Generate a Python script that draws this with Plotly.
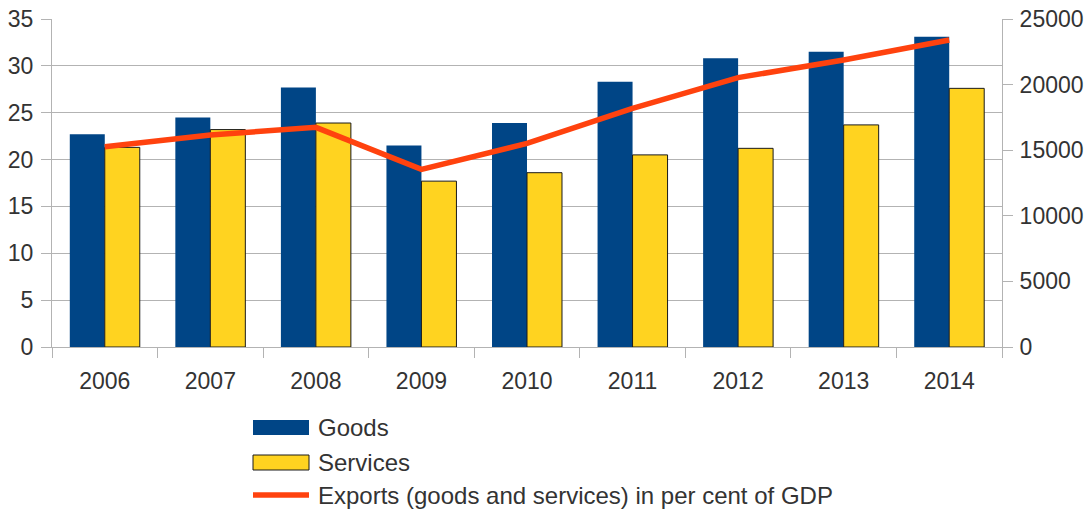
import plotly.graph_objects as go

years = ["2006", "2007", "2008", "2009", "2010", "2011", "2012", "2013", "2014"]
goods = [22.7, 24.5, 27.7, 21.5, 23.9, 28.3, 30.8, 31.5, 33.1]
services = [21.3, 23.2, 23.9, 17.7, 18.6, 20.5, 21.2, 23.7, 27.6]
exports = [15270, 16160, 16740, 13540, 15520, 18190, 20530, 21880, 23400]

left_ticks = [0, 5, 10, 15, 20, 25, 30, 35]
right_ticks = [0, 5000, 10000, 15000, 20000, 25000]
right_labels = ["0", "5000", "10000", "15000", "20000", "25000"]

C_GOODS = "#004586"
C_SERV = "#ffd320"
C_LINE = "#ff420e"
GRID = "#b3b3b3"
TXT = "#333333"
FONT = "Liberation Sans, Arial, sans-serif"

W, H = 1091, 511
L, R, T, B = 52, 1002, 19, 347


def px(x):
    return (x - L) / (R - L)


def py(y):
    return (B - y) / (B - T)


fig = go.Figure()
fig.add_trace(go.Bar(x=years, y=goods, name="Goods", marker=dict(color=C_GOODS, line=dict(width=0)),
                     showlegend=False))
fig.add_trace(go.Bar(x=years, y=services, name="Services",
                     marker=dict(color=C_SERV, line=dict(color="#1a1a1a", width=1)),
                     showlegend=False))
fig.add_trace(go.Scatter(x=years, y=exports, yaxis="y2", mode="lines",
                         name="Exports (goods and services) in per cent of GDP",
                         line=dict(color=C_LINE, width=5.5), showlegend=False))

legend_items = [
    ("Goods", "rect", C_GOODS, None, 427.5),
    ("Services", "rect", C_SERV, "#1a1a1a", 462.5),
    ("Exports (goods and services) in per cent of GDP", "line", C_LINE, None, 495),
]
shapes = []
annotations = []
for label, kind, color, border, yc in legend_items:
    if kind == "rect":
        shapes.append(dict(type="rect", xref="paper", yref="paper",
                           x0=px(253), x1=px(309), y0=py(yc - 7.5), y1=py(yc + 7.5),
                           fillcolor=color,
                           line=dict(color=border if border else color, width=1 if border else 0)))
    else:
        shapes.append(dict(type="line", xref="paper", yref="paper",
                           x0=px(253), x1=px(309), y0=py(yc), y1=py(yc),
                           line=dict(color=color, width=5.5)))
    annotations.append(dict(text=label, xref="paper", yref="paper", x=px(316), y=py(yc),
                            xanchor="left", yanchor="middle", showarrow=False,
                            font=dict(family=FONT, size=24, color=TXT)))

fig.update_layout(
    width=W, height=H,
    margin=dict(l=L, r=W - R, t=T, b=H - B, pad=0, autoexpand=False),
    paper_bgcolor="white", plot_bgcolor="white",
    barmode="group", bargap=0.337, bargroupgap=0,
    font=dict(family=FONT, size=23, color=TXT),
    xaxis=dict(type="category", showgrid=False, showline=True, linecolor=GRID, linewidth=1,
               ticks="outside", tickson="boundaries", ticklen=10, tickcolor=GRID,
               ticklabelstandoff=13, automargin=False, tickfont=dict(size=23, color=TXT)),
    yaxis=dict(range=[0, 35], tickvals=left_ticks, showgrid=True, gridcolor=GRID, gridwidth=1,
               showline=True, linecolor=GRID, ticks="outside", ticklen=10, tickcolor=GRID,
               ticklabelstandoff=3, zeroline=False, automargin=False,
               tickfont=dict(size=23, color=TXT)),
    yaxis2=dict(range=[0, 25000], tickvals=right_ticks, ticktext=right_labels, overlaying="y",
                side="right", showgrid=False, showline=True, linecolor=GRID, ticks="outside",
                ticklen=10, tickcolor=GRID, ticklabelstandoff=2, zeroline=False, automargin=False,
                tickfont=dict(size=23, color=TXT)),
    shapes=shapes,
    annotations=annotations,
)

fig.write_html("out.html")
